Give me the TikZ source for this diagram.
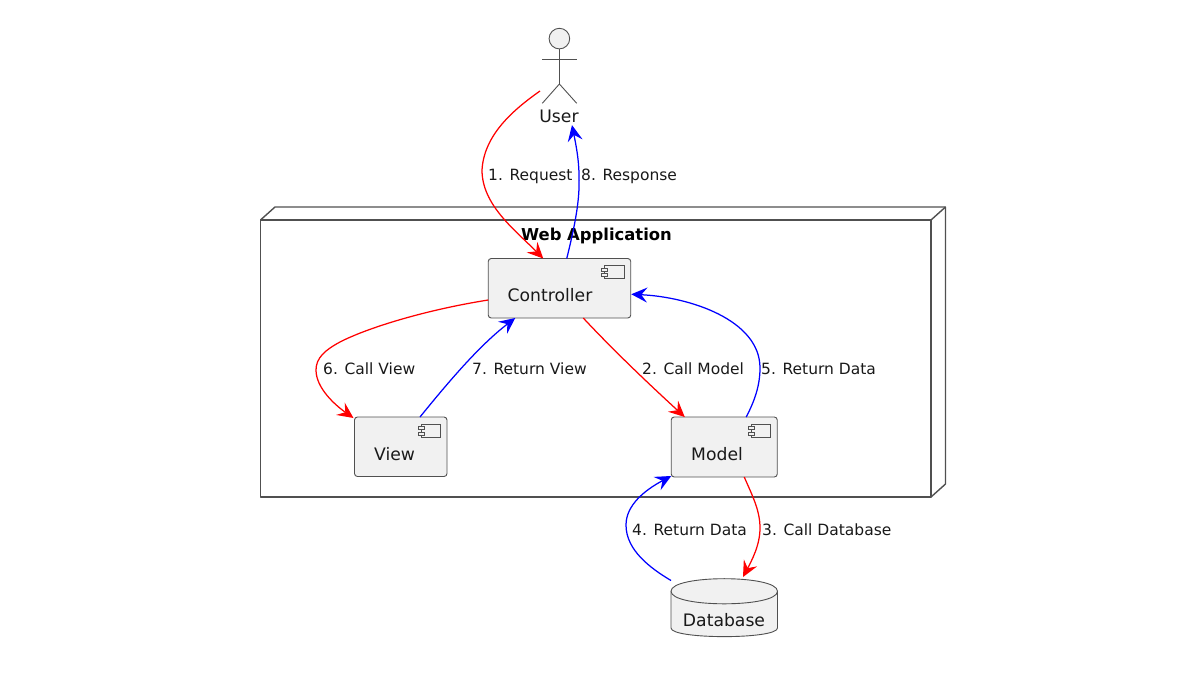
\documentclass[tikz,border=0pt]{standalone}
\usepackage{fontspec}
\setmainfont{DejaVu Sans}
\usetikzlibrary{arrows.meta,calc}
\definecolor{boxfill}{HTML}{F1F1F1}
\definecolor{boxline}{HTML}{505050}
\definecolor{edgered}{HTML}{FF0000}
\definecolor{edgeblue}{HTML}{0000FF}
\newcommand{\compicon}[1]{%
  \draw[iconline] ($(#1.north east)+(-26,7)$) rectangle ($(#1.north east)+(-6.5,20)$);
  \draw[iconline,fill=boxfill] ($(#1.north east)+(-29,9.5)$) rectangle ($(#1.north east)+(-23,12.5)$);
  \draw[iconline,fill=boxfill] ($(#1.north east)+(-29,15)$) rectangle ($(#1.north east)+(-23,18)$);
}
\tikzset{
  comp/.style={draw=boxline,fill=boxfill,line width=.9pt,rounded corners=3pt,inner sep=0pt,outer sep=0pt},
  iconline/.style={draw=boxline,line width=.8pt},
  nodetxt/.style={font=\fontsize{17.2}{20}\selectfont,text=black!90,inner sep=0pt},
  edgetxt/.style={font=\fontsize{15.5}{19}\selectfont,text=black!90,inner sep=0pt},
  webline/.style={draw=boxline,line width=1.4pt,line join=round},
  actorline/.style={draw=boxline,line width=.9pt},
  conn/.style={line width=1.25pt,-{Stealth[length=16pt,width=15pt,inset=6pt]}},
  redconn/.style={conn,draw=edgered,color=edgered},
  blueconn/.style={conn,draw=edgeblue,color=edgeblue},
  hull/.style={inner sep=0pt,outer sep=0pt},
}
\begin{document}
\begin{tikzpicture}[x=1pt,y=-1pt]
\useasboundingbox (0,0) rectangle (1202,675);
% Web Application package
\node[hull,webline,minimum width=670.5pt,minimum height=277pt] (web) at (595.75,358.5) {};
\draw[webline] (web.north west) -- ($(web.north west)+(14.5,-13)$) -- ($(web.north east)+(14.5,-13)$) -- ($(web.south east)+(14.5,-13)$) -- (web.south east);
\draw[webline] (web.north east) -- ($(web.north east)+(14.5,-13)$);
\node[inner sep=0pt,font=\bfseries\fontsize{16.4}{20}\selectfont] (webtitle) at (596.5,236) {Web Application};
% Components
\node[comp,minimum width=142.5pt,minimum height=59.5pt] (ctrl) at (559.5,288.25) {};
\compicon{ctrl}
\node[nodetxt,anchor=west] (ctrltxt) at (507.5,295) {Controller};
\node[comp,minimum width=92.5pt,minimum height=59.5pt] (view) at (400.75,446.75) {};
\compicon{view}
\node[nodetxt,anchor=west] (viewtxt) at (374,454) {View};
\node[comp,minimum width=106pt,minimum height=60pt] (model) at (724.25,447) {};
\compicon{model}
\node[nodetxt,anchor=west] (modeltxt) at (691,454) {Model};
% Database
\node[hull,minimum width=106.5pt,minimum height=58pt] (db) at (724.25,607.5) {};
\draw[comp,rounded corners=0pt] ($(db.north west)+(0,12.75)$)
  .. controls ($(db.north west)+(0,-4)$) and ($(db.north east)+(0,-4)$) .. ($(db.north east)+(0,12.75)$)
  -- ($(db.south east)+(0,-8.5)$)
  .. controls ($(db.south east)+(0,3)$) and ($(db.south west)+(0,3)$) .. ($(db.south west)+(0,-8.5)$) -- cycle;
\draw[comp,fill=none,rounded corners=0pt] ($(db.north west)+(0,12.75)$)
  .. controls ($(db.north west)+(0,29.5)$) and ($(db.north east)+(0,29.5)$) .. ($(db.north east)+(0,12.75)$);
\node[nodetxt] (dbtxt) at (724,620) {Database};
% Actor
\node[hull,minimum width=39pt,minimum height=76pt] (actor) at (559.5,66) {};
\node[draw=boxline,fill=boxfill,line width=.9pt,circle,minimum size=20.6pt,inner sep=0pt,outer sep=0pt] (head) at (559.4,38.6) {};
\coordinate (hip) at (559.4,84);
\draw[actorline] (head.south) -- (hip);
\draw[actorline] (542.3,59.3) -- (576.7,59.3);
\draw[actorline] (542.3,103.3) -- (hip) -- (576.7,103.3);
\node[nodetxt] (user) at (559,116.5) {User};
% Connectors
\draw[redconn] ($(actor.north west)+(0,63)$) .. controls (513,110) and (484,135) .. (482,170)
  .. controls (482,205) and (515,230) .. ($(ctrl.north west)+(55,0)$);
\draw[blueconn] ($(ctrl.north west)+(78.5,0)$) .. controls (575,225) and (580,200) .. (579,176)
  .. controls (579,160) and (576,145) .. ($(user.south)+(13,2)$);
\draw[redconn] ($(ctrl.north west)+(0,41.5)$) .. controls (425,310) and (367,328) .. (340,342)
  .. controls (325,350) and (316,358) .. (316,370)
  .. controls (316,388) and (335,405) .. ($(view.north west)+(-1,1)$);
\draw[blueconn] ($(view.north west)+(65.5,0)$) .. controls (450,380) and (480,345) .. ($(ctrl.south west)+(27,0)$);
\draw[redconn] ($(ctrl.south west)+(95,0)$) .. controls (615,352) and (650,385) .. ($(model.north west)+(13.5,0)$);
\draw[blueconn] ($(model.north west)+(75,0)$) .. controls (755,400) and (760,385) .. (760,368)
  .. controls (760,320) and (690,297) .. ($(ctrl.east)+(0.5,6)$);
\draw[blueconn] ($(db.north west)+(0,2)$) .. controls (650,568) and (626,550) .. (626,525)
  .. controls (626,505) and (645,490) .. ($(model.south west)+(0,-1)$);
\draw[redconn] ($(model.south west)+(73,0)$) .. controls (752,495) and (760,510) .. (760,528)
  .. controls (760,545) and (752,560) .. ($(db.north west)+(72,-1.5)$);
% Connector labels
\node[edgetxt,anchor=west] (l1) at (488,176.5) {1. Request};
\node[edgetxt,anchor=west] (l8) at (581,176.5) {8. Response};
\node[edgetxt,anchor=west] (l6) at (323,368.5) {6. Call View};
\node[edgetxt,anchor=west] (l7) at (472,368.5) {7. Return View};
\node[edgetxt,anchor=west] (l2) at (642,368.5) {2. Call Model};
\node[edgetxt,anchor=west] (l5) at (761,368.5) {5. Return Data};
\node[edgetxt,anchor=west] (l4) at (632,529.5) {4. Return Data};
\node[edgetxt,anchor=west] (l3) at (762,529.5) {3. Call Database};
\end{tikzpicture}
\end{document}
